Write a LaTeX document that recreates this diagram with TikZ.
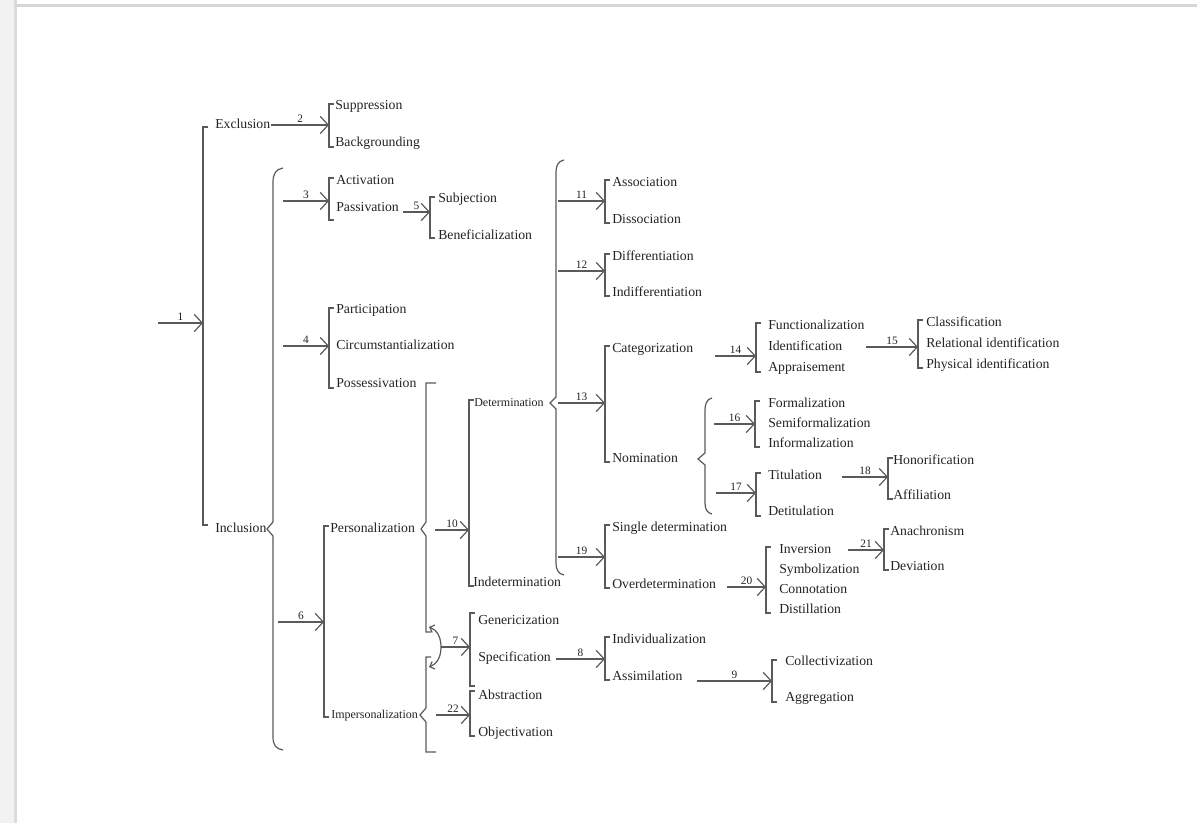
\documentclass[tikz,border=0pt]{standalone}
\usepackage{fontspec}
\setmainfont{Liberation Serif}
\usetikzlibrary{arrows.meta}
\definecolor{ink}{RGB}{35,35,35}
\definecolor{rule}{RGB}{90,90,90}

\begin{document}
\begin{tikzpicture}[x=0.75pt,y=0.75pt,yscale=-1,xscale=1,
  txt/.style={anchor=west,inner sep=0.75pt,text height=7pt,text depth=2pt,text=ink,font=\fontsize{10.3}{12}\selectfont},
  txts/.style={txt,font=\fontsize{9}{11}\selectfont},
  num/.style={midway,above,inner sep=1.5pt,text=ink,font=\fontsize{8.5}{10}\selectfont},
  brk/.style={draw=rule,line width=0.9pt},
  arr/.style={brk,-{Straight Barb[length=6pt,width=13pt]}},
  arrs/.style={brk,-{Straight Barb[length=3pt,width=6pt]}}]
\useasboundingbox (0,0) rectangle (1197,823);

%Page frame
\fill[black!5] (0,0) rectangle (14,823);
\draw[black!14,line width=2.25pt] (15,0) -- (15,823);
\draw[black!16,line width=2.25pt] (15,5.5) -- (1197,5.5);

% Text Node
\node[txt] (Excl) at (214,125) {Exclusion};
\node[txt] (Incl) at (214,529) {Inclusion};
\node[txt] (Supp) at (334,106) {Suppression};
\node[txt] (Back) at (334,143) {Backgrounding};
\node[txt] (Acti) at (335,181) {Activation};
\node[txt] (Pass) at (335,208) {Passivation};
\node[txt] (Subj) at (437,199) {Subjection};
\node[txt] (Bene) at (437,236) {Beneficialization};
\node[txt] (Part) at (335,310) {Participation};
\node[txt] (Circ) at (335,346) {Circumstantialization};
\node[txt] (Poss) at (335,384) {Possessivation};
\node[txt] (Pers) at (329,529) {Personalization};
\node[txts] (Impe) at (330,715) {Impersonalization};
\node[txts] (Dete) at (473,403) {Determination};
\node[txt] (Inde) at (472,583) {Indetermination};
\node[txt] (Asso) at (611,183) {Association};
\node[txt] (Diss) at (611,220) {Dissociation};
\node[txt] (Diff) at (611,257) {Differentiation};
\node[txt] (Indi) at (611,293) {Indifferentiation};
\node[txt] (Cate) at (611,349) {Categorization};
\node[txt] (Nomi) at (611,459) {Nomination};
\node[txt] (Sing) at (611,528) {Single determination};
\node[txt] (Over) at (611,585) {Overdetermination};
\node[txt] (Func) at (767,326) {Functionalization};
\node[txt] (Iden) at (767,347) {Identification};
\node[txt] (Appr) at (767,368) {Appraisement};
\node[txt] (Clas) at (925,323) {Classification};
\node[txt] (Rela) at (925,344) {Relational identification};
\node[txt] (Phys) at (925,365) {Physical identification};
\node[txt] (Form) at (767,404) {Formalization};
\node[txt] (Semi) at (767,424) {Semiformalization};
\node[txt] (Info) at (767,444) {Informalization};
\node[txt] (Titu) at (767,476) {Titulation};
\node[txt] (Deti) at (767,512) {Detitulation};
\node[txt] (Hono) at (892,461) {Honorification};
\node[txt] (Affi) at (892,496) {Affiliation};
\node[txt] (Inve) at (778,550) {Inversion};
\node[txt] (Symb) at (778,570) {Symbolization};
\node[txt] (Conn) at (778,590) {Connotation};
\node[txt] (Dist) at (778,610) {Distillation};
\node[txt] (Anac) at (889,532) {Anachronism};
\node[txt] (Devi) at (889,567) {Deviation};
\node[txt] (Gene) at (477,621) {Genericization};
\node[txt] (Spec) at (477,658) {Specification};
\node[txt] (Abst) at (477,696) {Abstraction};
\node[txt] (Obje) at (477,733) {Objectivation};
\node[txt] (Indv) at (611,640) {Individualization};
\node[txt] (Assi) at (611,677) {Assimilation};
\node[txt] (Coll) at (784,662) {Collectivization};
\node[txt] (Aggr) at (784,698) {Aggregation};

%Arrow starts
\coordinate (s1) at (158,323);
\coordinate (s3) at (283,201);
\coordinate (s4) at (283,346);
\coordinate (s5) at (403,212);
\coordinate (s6) at (278,622);
\coordinate (s7) at (441,647);
\coordinate (s8) at (556,659);
\coordinate (s9) at (697,681);
\coordinate (s10) at (435,530);
\coordinate (s11) at (558,201);
\coordinate (s12) at (558,271);
\coordinate (s13) at (558,403);
\coordinate (s14) at (715,356);
\coordinate (s15) at (866,347);
\coordinate (s16) at (714,424);
\coordinate (s17) at (716,493);
\coordinate (s18) at (842,477);
\coordinate (s19) at (558,557);
\coordinate (s20) at (727,587);
\coordinate (s21) at (848,550);
\coordinate (s22) at (436,715);
%Bracket entry points
\coordinate (b1) at (203,323);
\coordinate (b2) at (329,125);
\coordinate (b3) at (329,201);
\coordinate (b4) at (329,346);
\coordinate (b5) at (430,212);
\coordinate (b6) at (324,622);
\coordinate (b7) at (470,647);
\coordinate (b8) at (605,659);
\coordinate (b9) at (772,681);
\coordinate (b10) at (469,530);
\coordinate (b11) at (605,201);
\coordinate (b12) at (605,271);
\coordinate (b13) at (605,403);
\coordinate (b14) at (756,356);
\coordinate (b15) at (918,347);
\coordinate (b16) at (755,424);
\coordinate (b17) at (756,493);
\coordinate (b18) at (888,477);
\coordinate (b19) at (605,557);
\coordinate (b20) at (766,587);
\coordinate (b21) at (884,550);
\coordinate (b22) at (470,715);

%Brackets
\draw[brk] (208,127) -| (b1) |- (208,525);
\draw[brk] (334,104) -| (b2) |- (334,147);
\draw[brk] (334,178) -| (b3) |- (334,220);
\draw[brk] (334,308) -| (b4) |- (334,388);
\draw[brk] (435,197) -| (b5) |- (435,238);
\draw[brk] (329,526) -| (b6) |- (329,717);
\draw[brk] (475,613) -| (b7) |- (475,686);
\draw[brk] (610,637) -| (b8) |- (610,680);
\draw[brk] (777,660) -| (b9) |- (777,702);
\draw[brk] (474,400) -| (b10) |- (474,586);
\draw[brk] (610,180) -| (b11) |- (610,223);
\draw[brk] (610,254) -| (b12) |- (610,296);
\draw[brk] (610,346) -| (b13) |- (610,462);
\draw[brk] (761,323) -| (b14) |- (761,372);
\draw[brk] (923,320) -| (b15) |- (923,368);
\draw[brk] (760,401) -| (b16) |- (760,447);
\draw[brk] (761,473) -| (b17) |- (761,516);
\draw[brk] (893,458) -| (b18) |- (893,499);
\draw[brk] (610,525) -| (b19) |- (610,588);
\draw[brk] (771,547) -| (b20) |- (771,613);
\draw[brk] (889,529) -| (b21) |- (889,570);
\draw[brk] (475,691) -| (b22) |- (475,736);

%Curly braces
\draw[brk] (283,168) .. controls (276,169) and (273,174) .. (273,182) -- (273,522) -- (267,529) -- (273,536) -- (273,737) .. controls (273,745) and (276,749) .. (283,750);
\draw[brk] (564,160) .. controls (558,161) and (556,166) .. (556,172) -- (556,397) -- (550,403) -- (556,409) -- (556,563) .. controls (556,569) and (558,574) .. (564,575);
\draw[brk] (712,398) .. controls (707,399) and (705,404) .. (705,410) -- (705,453) -- (698,459) -- (705,465) -- (705,503) .. controls (705,509) and (707,513) .. (712,514);
\draw[brk] (436,383) -- (426,383) -- (426,522) -- (421,529) -- (426,536) -- (426,632) -- (431,632);
\draw[brk] (431,657) -- (426,657) -- (426,708) -- (420,715) -- (426,722) -- (426,752) -- (436,752);

%Straight Lines
\draw[arr] (s1) -- (b1) node[num] {1};
\draw[arr] (Excl) -- (b2) node[num] {2};
\draw[arr] (s3) -- (b3) node[num] {3};
\draw[arr] (s4) -- (b4) node[num] {4};
\draw[arr] (s5) -- (b5) node[num] {5};
\draw[arr] (s6) -- (b6) node[num] {6};
\draw[arr] (s7) -- (b7) node[num] {7};
\draw[arr] (s8) -- (b8) node[num] {8};
\draw[arr] (s9) -- (b9) node[num] {9};
\draw[arr] (s10) -- (b10) node[num] {10};
\draw[arr] (s11) -- (b11) node[num] {11};
\draw[arr] (s12) -- (b12) node[num] {12};
\draw[arr] (s13) -- (b13) node[num] {13};
\draw[arr] (s14) -- (b14) node[num] {14};
\draw[arr] (s15) -- (b15) node[num] {15};
\draw[arr] (s16) -- (b16) node[num] {16};
\draw[arr] (s17) -- (b17) node[num] {17};
\draw[arr] (s18) -- (b18) node[num] {18};
\draw[arr] (s19) -- (b19) node[num] {19};
\draw[arr] (s20) -- (b20) node[num] {20};
\draw[arr] (s21) -- (b21) node[num] {21};
\draw[arr] (s22) -- (b22) node[num] {22};
%Curve Lines
\draw[arrs] (s7) .. controls (441,637) and (437,630) .. (429,627);
\draw[arrs] (s7) .. controls (441,657) and (437,664) .. (429,667);
\end{tikzpicture}
\end{document}
